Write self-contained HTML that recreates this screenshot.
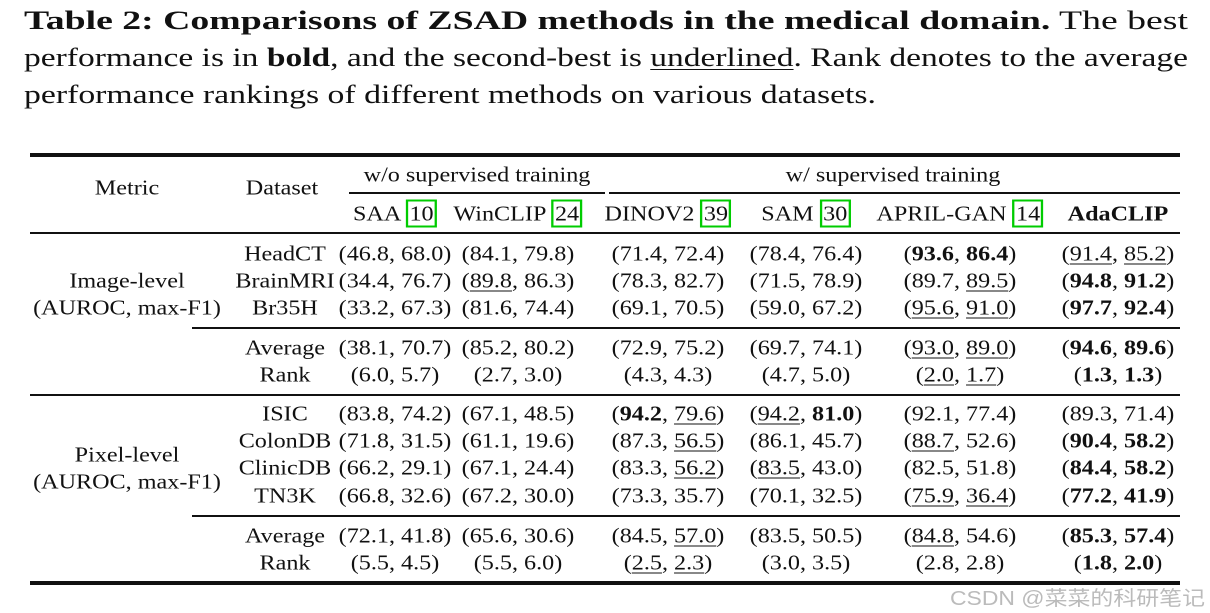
<!DOCTYPE html>
<html><head><meta charset="utf-8"><style>
body{margin:0;background:#fff;width:1210px;height:613px;position:relative;overflow:hidden;font-family:"Liberation Serif",serif;color:#111}
.cap{position:absolute;left:24px;font-size:26px;line-height:1;white-space:nowrap;transform-origin:0 50%}
.c{position:absolute;transform:translate(-50%,-50%) scaleX(1.15);font-size:21px;white-space:nowrap;line-height:1}
.ln{position:absolute;background:#111}
u{text-decoration:underline;text-decoration-thickness:1px;text-underline-offset:3px}
.g{border:2px solid #0c0;padding:0 1px}
.wm{position:absolute;left:950px;top:582px;font-family:"Liberation Sans","Noto Sans CJK SC",sans-serif;font-size:20px;color:#bbb;transform-origin:0 0}
</style></head><body>
<div class="cap" id="c1" style="top:8px"><b>Table 2: Comparisons of ZSAD methods in the medical domain.</b> The best</div>
<div class="cap" id="c2" style="top:45px">performance is in <b>bold</b>, and the second-best is <u>underlined</u>. Rank denotes to the average</div>
<div class="cap" id="c3" style="top:82px">performance rankings of different methods on various datasets.</div>
<div class="ln" style="left:30px;top:153px;width:1150px;height:4px"></div>
<div class="ln" style="left:349px;top:192px;width:256px;height:1.5px"></div>
<div class="ln" style="left:609px;top:192px;width:571px;height:1.5px"></div>
<div class="ln" style="left:30px;top:232px;width:1150px;height:2px"></div>
<div class="ln" style="left:192px;top:327px;width:988px;height:2px"></div>
<div class="ln" style="left:30px;top:394px;width:1150px;height:2px"></div>
<div class="ln" style="left:192px;top:515px;width:988px;height:2px"></div>
<div class="ln" style="left:30px;top:581px;width:1150px;height:4px"></div>
<div id="cells"></div>
<div class="wm" id="wm">CSDN @菜菜的科研笔记</div>
<script>
const cols=[395,518,668,806,960,1118];
const hdr=['SAA <span class="g">10</span>','WinCLIP <span class="g">24</span>','DINOV2 <span class="g">39</span>','SAM <span class="g">30</span>','APRIL-GAN <span class="g">14</span>','<b>AdaCLIP</b>'];
const rowsY=[254,281,308,348,375,414,441,468,496,536,563];
const datasets=['HeadCT','BrainMRI','Br35H','Average','Rank','ISIC','ColonDB','ClinicDB','TN3K','Average','Rank'];
const vals=[
['(46.8, 68.0)','(84.1, 79.8)','(71.4, 72.4)','(78.4, 76.4)','(<b>93.6</b>, <b>86.4</b>)','(<u>91.4</u>, <u>85.2</u>)'],
['(34.4, 76.7)','(<u>89.8</u>, 86.3)','(78.3, 82.7)','(71.5, 78.9)','(89.7, <u>89.5</u>)','(<b>94.8</b>, <b>91.2</b>)'],
['(33.2, 67.3)','(81.6, 74.4)','(69.1, 70.5)','(59.0, 67.2)','(<u>95.6</u>, <u>91.0</u>)','(<b>97.7</b>, <b>92.4</b>)'],
['(38.1, 70.7)','(85.2, 80.2)','(72.9, 75.2)','(69.7, 74.1)','(<u>93.0</u>, <u>89.0</u>)','(<b>94.6</b>, <b>89.6</b>)'],
['(6.0, 5.7)','(2.7, 3.0)','(4.3, 4.3)','(4.7, 5.0)','(<u>2.0</u>, <u>1.7</u>)','(<b>1.3</b>, <b>1.3</b>)'],
['(83.8, 74.2)','(67.1, 48.5)','(<b>94.2</b>, <u>79.6</u>)','(<u>94.2</u>, <b>81.0</b>)','(92.1, 77.4)','(89.3, 71.4)'],
['(71.8, 31.5)','(61.1, 19.6)','(87.3, <u>56.5</u>)','(86.1, 45.7)','(<u>88.7</u>, 52.6)','(<b>90.4</b>, <b>58.2</b>)'],
['(66.2, 29.1)','(67.1, 24.4)','(83.3, <u>56.2</u>)','(<u>83.5</u>, 43.0)','(82.5, 51.8)','(<b>84.4</b>, <b>58.2</b>)'],
['(66.8, 32.6)','(67.2, 30.0)','(73.3, 35.7)','(70.1, 32.5)','(<u>75.9</u>, <u>36.4</u>)','(<b>77.2</b>, <b>41.9</b>)'],
['(72.1, 41.8)','(65.6, 30.6)','(84.5, <u>57.0</u>)','(83.5, 50.5)','(<u>84.8</u>, 54.6)','(<b>85.3</b>, <b>57.4</b>)'],
['(5.5, 4.5)','(5.5, 6.0)','(<u>2.5</u>, <u>2.3</u>)','(3.0, 3.5)','(2.8, 2.8)','(<b>1.8</b>, <b>2.0</b>)']];
const box=document.getElementById('cells');
function add(x,y,html,name){const d=document.createElement('div');d.className='c';d.style.left=x+'px';d.style.top=y+'px';d.innerHTML=html;


box.appendChild(d);}
add(127,188,'Metric','metric-header');
add(282,188,'Dataset','dataset-header');
add(477,175,'w/o supervised training','group-header-unsupervised');
add(893,175,'w/ supervised training','group-header-supervised');
hdr.forEach((h,i)=>add(cols[i],214,h,'method-header-'+i));
add(127,281,'Image-level','image-level-label');
add(127,308,'(AUROC, max-F1)','image-level-metric');
add(127,455,'Pixel-level','pixel-level-label');
add(127,482,'(AUROC, max-F1)','pixel-level-metric');
datasets.forEach((d,r)=>add(285,rowsY[r],d,'dataset-'+d.toLowerCase()));
vals.forEach((row,r)=>row.forEach((v,c)=>add(cols[c],rowsY[r],v,'cell-r'+r+'-c'+c)));
function fit(id,w){const e=document.getElementById(id);const s=w/e.getBoundingClientRect().width;e.style.transform='scaleX('+s+')';}
fit('c1',1164);fit('c2',1164);fit('c3',852);fit('wm',255);
</script>
</body></html>
